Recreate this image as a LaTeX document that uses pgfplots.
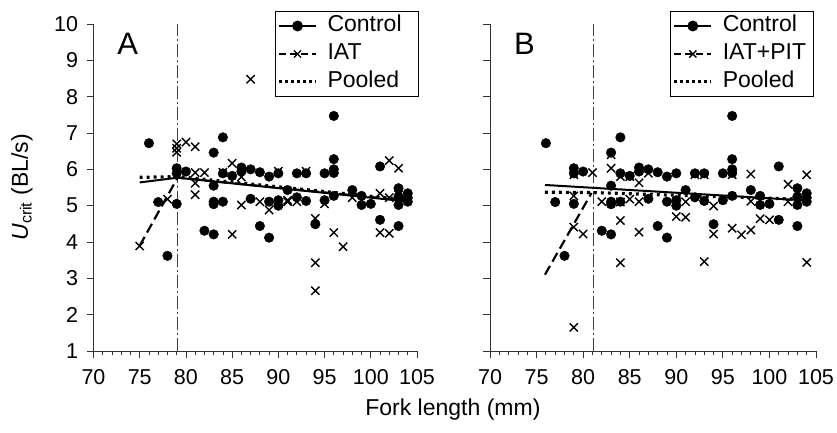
\documentclass[border=0pt]{standalone}
\usepackage{fontspec}
\setmainfont{Liberation Sans}
\usepackage{pgfplots}
\usepackage{pgfplotstable}
\pgfplotsset{compat=1.18}

\pgfplotstableread{
L U
76 6.72
77 5.10
78 3.62
79 6.03
79 5.89
79 5.05
80 5.94
82 4.31
83 6.46
83 5.55
83 5.11
83 5.04
83 4.21
84 6.88
84 5.89
84 5.11
85 5.82
86 6.05
86 5.94
87 6.00
87 5.19
88 5.92
88 4.44
89 5.80
89 5.11
89 4.12
90 5.89
90 5.15
90 5.00
91 5.43
92 5.89
92 5.23
93 5.89
93 5.13
94 4.49
95 5.89
95 5.15
96 7.47
96 6.28
96 6.00
96 5.90
96 5.27
98 5.43
99 5.27
99 5.02
100 5.05
101 6.08
101 4.61
103 5.48
103 5.02
103 4.44
103 5.25
104 5.34
104 5.11
104 5.22
}\control

\pgfplotstableread{
L U
75 3.89
78 5.18
79 6.70
79 6.58
79 6.47
80 6.75
81 6.62
81 5.91
82 5.91
81 5.62
81 5.30
84 5.92
85 6.17
85 4.21
86 5.79
86 5.02
87 8.48
88 5.11
89 4.88
90 5.95
90 5.08
91 5.11
91 5.15
92 5.11
93 5.95
94 4.65
94 3.43
94 2.66
95 5.05
96 4.26
97 3.87
98 5.22
101 5.34
101 4.26
102 4.24
102 6.24
103 6.03
102 5.22
103 5.30
}\iat

\pgfplotstableread{
L U
79 5.85
79 5.27
79 4.41
79 1.65
80 4.22
81 5.91
82 5.11
83 6.03
83 6.40
84 5.10
84 4.59
84 3.43
84 5.80
85 5.18
85 5.80
86 5.63
86 5.11
86 4.27
87 5.89
90 4.70
90 5.11
91 4.68
91 5.11
92 5.85
93 3.46
93 5.85
94 4.99
94 4.22
96 4.38
96 5.85
97 4.20
98 4.33
98 5.87
98 5.12
99 4.64
100 4.61
102 5.59
102 5.11
104 5.85
104 3.44
}\iatpit

\pgfplotsset{
  myaxis/.style={
    scale only axis, height=327bp,
    xmin=70, xmax=105, ymin=1, ymax=10,
    axis x line=bottom, axis y line=left,
    axis line style={-, line width=0.8bp, black!80},
    xtick={70,75,...,105}, ytick={1,...,10},
    minor x tick num=4,
    tick align=outside,
    major tick length=7bp, minor tick length=4bp,
    tick style={line width=0.8bp, black!80},
    every tick label/.append style={font=\fontsize{21.5bp}{25bp}\selectfont},
    /pgf/number format/assume math mode=true,
    xticklabel style={yshift=-8bp},
    yticklabel style={xshift=-5bp},
    label style={font=\fontsize{23bp}{27bp}\selectfont},
    legend cell align=left,
    legend style={draw=black, line width=1bp, anchor=north east,
      font=\fontsize{23bp}{26bp}\selectfont,
      inner xsep=2bp, inner ysep=0.5bp,
      nodes={inner xsep=4bp, inner ysep=3.5bp, text height=16.5bp, text depth=4.5bp}},
    legend image code/.code={\draw[mark repeat=2,mark phase=2,##1] plot coordinates {(0bp,0bp) (18.5bp,0bp) (37bp,0bp)}; \path (43bp,0bp);},
  },
  ctrl/.style={only marks, mark=*, mark size=4.8bp, black},
  iatm/.style={only marks, mark=x, mark size=5.8bp, black, mark options={line width=1.4bp}},
  fitc/.style={black, line width=2bp, no marks},
  fiti/.style={black, line width=2.2bp, dash pattern=on 10bp off 5bp, no marks},
  fitp/.style={black, line width=3.2bp, dash pattern=on 2.8bp off 4.2bp, no marks},
  vline/.style={black!75, line width=1.1bp, dash pattern=on 13bp off 3bp on 2bp off 3bp, no marks},
}

\begin{document}
\begin{tikzpicture}
\begin{axis}[myaxis, width=323.5bp, at={(93.5bp,-351bp)}, anchor=south west,
  ylabel={\textit{U}\textsubscript{crit} (BL/s)},
  ylabel style={at={(axis description cs:-0.221,0.5)}, anchor=center},
  xlabel={Fork length (mm)},
  xlabel style={at={(axis description cs:1.111,-0.18)}, anchor=center},
  legend style={at={(axis description cs:1.0062,1.0398)}},
]
\addlegendimage{black, line width=1.8bp, mark=*, mark size=4.5bp, mark options={solid}}
\addlegendentry{\makebox[85bp][l]{Control}}
\addlegendimage{black, line width=1.5bp, dash pattern=on 7bp off 4bp, mark=x, mark size=5bp, mark options={solid, line width=1.4bp}}
\addlegendentry{\makebox[85bp][l]{IAT}}
\addlegendimage{black, line width=3bp, dash pattern=on 2.8bp off 3.2bp}
\addlegendentry{\makebox[85bp][l]{Pooled}}
\addplot[vline, forget plot] coordinates {(79.1,1) (79.1,10)};
\addplot[iatm, forget plot] table[x=L, y=U] {\iat};
\addplot[ctrl, forget plot] table[x=L, y=U] {\control};
\addplot[fiti, forget plot] coordinates {(75,3.9) (79.1,5.77) (104.2,5.13)};
\addplot[fitp, forget plot] coordinates {(75,5.78) (79.1,5.8) (104.2,5.15)};
\addplot[fitc, forget plot] coordinates {(75,5.64) (79.1,5.77) (104.2,5.11)};
\node[font=\fontsize{31bp}{34bp}\selectfont] at (axis cs:73.7,9.45) {A};
\end{axis}

\begin{axis}[myaxis, width=326bp, at={(490bp,-351bp)}, anchor=south west,
  yticklabels={},
  legend style={at={(axis description cs:0.9948,1.0398)}},
]
\addlegendimage{black, line width=1.8bp, mark=*, mark size=4.5bp, mark options={solid}}
\addlegendentry{\makebox[85bp][l]{Control}}
\addlegendimage{black, line width=1.5bp, dash pattern=on 7bp off 4bp, mark=x, mark size=5bp, mark options={solid, line width=1.4bp}}
\addlegendentry{\makebox[85bp][l]{IAT+PIT}}
\addlegendimage{black, line width=3bp, dash pattern=on 2.8bp off 3.2bp}
\addlegendentry{\makebox[85bp][l]{Pooled}}
\addplot[vline, forget plot] coordinates {(81.1,1) (81.1,10)};
\addplot[iatm, forget plot] table[x=L, y=U] {\iatpit};
\addplot[ctrl, forget plot] table[x=L, y=U] {\control};
\addplot[fiti, forget plot] coordinates {(75.9,3.1) (80.9,5.35)};
\addplot[fitp, forget plot] coordinates {(75.9,5.37) (81.1,5.36) (104.2,5.17)};
\addplot[fitc, forget plot] coordinates {(75.9,5.57) (104.2,5.14)};
\node[font=\fontsize{31bp}{34bp}\selectfont] at (axis cs:73.7,9.45) {B};
\end{axis}
\pgfresetboundingbox
\useasboundingbox (0,0) rectangle (837bp,-433bp);
\end{tikzpicture}
\end{document}
